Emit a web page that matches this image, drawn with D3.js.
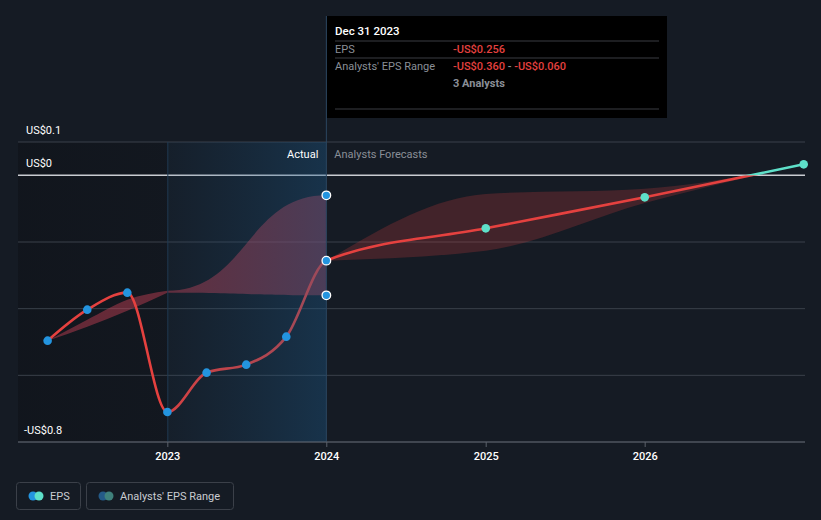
<!DOCTYPE html>
<html><head><meta charset="utf-8">
<script src="https://cdn.jsdelivr.net/npm/d3@7"></script>
<style>
html,body{margin:0;padding:0;background:#151b24;}
svg{display:block;font-family:Roboto, "Noto Sans", sans-serif;}
</style></head>
<body>
<svg id="chart" width="821" height="520"></svg>
<script>
// ---- data ----
const actualDates = ["2022-03-31","2022-06-30","2022-09-30","2022-12-31","2023-03-31","2023-06-30","2023-09-30","2023-12-31"];
const actualEPS = [-0.496,-0.403,-0.352,-0.710,-0.592,-0.568,-0.484,-0.256];
const forecastDates = ["2023-12-31","2024-12-31","2025-12-31","2026-12-31"];
const forecastEPS = [-0.256,-0.159,-0.066,0.033];
const forecastLow = [-0.256,-0.226,-0.083,0.033];
const forecastHigh = [-0.256,-0.056,-0.040,0.033];
const pastRangeDates = ["2022-03-31","2022-06-30","2022-09-30","2022-12-31","2023-12-31"];
const pastRangeLow = [-0.496,-0.454,-0.406,-0.352,-0.360];
const pastRangeHigh = [-0.496,-0.433,-0.373,-0.346,-0.060];
const yTickValues = [0.1,0,-0.2,-0.4,-0.6,-0.8];
const yTickLabels = {"0.1":"US$0.1","0":"US$0","-0.8":"-US$0.8"};
const xTickYears = [2023,2024,2025,2026];
const tooltipTitle = "Dec 31 2023";
const tooltipEPS = "-US$0.256";
const tooltipRangeLow = "-US$0.360";
const tooltipRangeHigh = "-US$0.060";
const tooltipAnalysts = "3 Analysts";

const P = d3.utcParse("%Y-%m-%d");
const svg = d3.select("#chart");
const W = 821, H = 520;
const pL = 18, pR = 805, pT = 142, pB = 442;

const x = d3.scaleUtc().domain([Date.UTC(2022,0,22), Date.UTC(2027,0,3)]).range([pL, pR]);
const y = d3.scaleLinear().domain([-0.8, 0.1]).range([pB, pT]);

const defs = svg.append("defs");
const hg = defs.append("linearGradient").attr("id","hl").attr("x1","0").attr("x2","1").attr("y1","0").attr("y2","0");
hg.append("stop").attr("offset","0").attr("stop-color","#1c4f78").attr("stop-opacity",0.08);
hg.append("stop").attr("offset","1").attr("stop-color","#1c5a8a").attr("stop-opacity",0.38);
const lg = defs.append("linearGradient").attr("id","dk").attr("x1","0").attr("x2","1");
lg.append("stop").attr("offset","0").attr("stop-color","#0e1117").attr("stop-opacity",0.55);
lg.append("stop").attr("offset","1").attr("stop-color","#0e1117").attr("stop-opacity",0.35);

const t2023 = x(Date.UTC(2023,0,1));
const tDiv = x(P("2023-12-31"));

// dark past region
svg.append("rect").attr("x", pL).attr("y", pT).attr("width", t2023-pL).attr("height", pB-pT).attr("fill","url(#dk)");

// gridlines
svg.append("g").selectAll("line").data(yTickValues.filter(v=>v!==0)).join("line")
  .attr("x1", pL).attr("x2", pR).attr("y1", d=>y(d)).attr("y2", d=>y(d))
  .attr("stroke","#3a404a").attr("stroke-width",1);

// bands
const pastBand = pastRangeDates.map((d,i)=>({d:P(d), lo:pastRangeLow[i], hi:pastRangeHigh[i]}));
const nPB = pastBand.length;
svg.append("path").datum(pastBand.slice(0,nPB-1))
  .attr("d", d3.area().curve(d3.curveMonotoneX).x(d=>x(d.d)).y0(d=>y(d.lo)).y1(d=>y(d.hi)))
  .attr("fill","#d9465a").attr("fill-opacity",0.42);
svg.append("path").datum(pastBand.slice(nPB-2))
  .attr("d", d3.area().curve(d3.curveBumpX).x(d=>x(d.d)).y0(d=>y(d.lo)).y1(d=>y(d.hi)))
  .attr("fill","#d9465a").attr("fill-opacity",0.42);
const fBand = forecastDates.map((d,i)=>({d:P(d), lo:forecastLow[i], hi:forecastHigh[i]}));
svg.append("path").datum(fBand)
  .attr("d", d3.area().curve(d3.curveMonotoneX).x(d=>x(d.d)).y0(d=>y(d.lo)).y1(d=>y(d.hi)))
  .attr("fill","#e5413f").attr("fill-opacity",0.22);

// zero line
svg.append("line").attr("x1", pL).attr("x2", pR).attr("y1", y(0)).attr("y2", y(0))
  .attr("stroke","#c9ccd1").attr("stroke-width",1.5);

// EPS line (actual + forecast), red below zero, teal above
const all = actualDates.map((d,i)=>({d:P(d), v:actualEPS[i]}))
  .concat(forecastDates.slice(1).map((d,i)=>({d:P(d), v:forecastEPS[i+1]})));
const line = d3.line().curve(d3.curveMonotoneX).x(d=>x(d.d)).y(d=>y(d.v));
defs.append("clipPath").attr("id","below").append("rect").attr("x",0).attr("y",y(0)).attr("width",W).attr("height",H);
defs.append("clipPath").attr("id","above").append("rect").attr("x",0).attr("y",0).attr("width",W).attr("height",y(0));
svg.append("path").datum(all).attr("d", line).attr("fill","none").attr("stroke","#e5413f").attr("stroke-width",2.6).attr("clip-path","url(#below)");
svg.append("path").datum(all).attr("d", line).attr("fill","none").attr("stroke","#5ee0c9").attr("stroke-width",2.6).attr("clip-path","url(#above)");

// highlight region 2023-2024 (overlay)
svg.append("rect").attr("x", t2023).attr("y", pT).attr("width", tDiv-t2023).attr("height", pB-pT).attr("fill","url(#hl)");
svg.append("line").attr("x1", t2023).attr("x2", t2023).attr("y1", pT).attr("y2", pB).attr("stroke","#1f3a52").attr("stroke-width",1);
svg.append("line").attr("x1", tDiv).attr("x2", tDiv).attr("y1", 16).attr("y2", pB).attr("stroke","#2b4660").attr("stroke-width",1);

// points
const actPts = actualDates.map((d,i)=>({d:P(d), v:actualEPS[i]}));
svg.append("g").selectAll("circle").data(actPts.slice(0,-1)).join("circle")
  .attr("cx", d=>x(d.d)).attr("cy", d=>y(d.v)).attr("r",4.3).attr("fill","#2394df");
const divPts = [actualEPS[actualEPS.length-1], pastRangeHigh[pastRangeHigh.length-1], pastRangeLow[pastRangeLow.length-1]];
svg.append("g").selectAll("circle").data(divPts).join("circle")
  .attr("cx", tDiv).attr("cy", d=>y(d)).attr("r",4.3).attr("fill","#2394df").attr("stroke","#ffffff").attr("stroke-width",1.3);
const fPts = forecastDates.slice(1).map((d,i)=>({d:P(d), v:forecastEPS[i+1]}));
svg.append("g").selectAll("circle").data(fPts).join("circle")
  .attr("cx", d=>x(d.d)).attr("cy", d=>y(d.v)).attr("r",4.3).attr("fill","#5ee0c9");

// x axis
svg.append("line").attr("x1", pL).attr("x2", pR).attr("y1", pB).attr("y2", pB).attr("stroke","#5b616b").attr("stroke-width",1.2);
const xt = svg.append("g").selectAll("g").data(xTickYears).join("g").attr("transform", d=>`translate(${x(Date.UTC(d,0,1))},0)`);
xt.append("line").attr("y1", pB).attr("y2", pB+5).attr("stroke","#5b616b");
xt.append("text").attr("y", pB+18).attr("text-anchor","middle").attr("fill","#ffffff").attr("font-size",11).attr("font-weight",500).text(d=>d);

// y labels
svg.append("g").selectAll("text").data(yTickValues.filter(v=>yTickLabels[String(v)])).join("text")
  .attr("x", d=> d<0 ? 24 : 26).attr("y", d=>y(d)-8).attr("fill","#ffffff").attr("font-size",11)
  .text(d=>yTickLabels[String(d)]);

// Actual / Analysts Forecasts labels
svg.append("text").attr("x", tDiv-8).attr("y", 158).attr("text-anchor","end").attr("fill","#ffffff").attr("font-size",11).text("Actual");
svg.append("text").attr("x", tDiv+8).attr("y", 158).attr("fill","#8a8f97").attr("font-size",11).text("Analysts Forecasts");

// tooltip
const tt = svg.append("g");
tt.append("rect").attr("x", 327).attr("y", 16).attr("width", 340).attr("height", 102).attr("fill","#000000");
tt.append("text").attr("x",335).attr("y",35).attr("fill","#ffffff").attr("font-size",11.5).attr("font-weight",500).text(tooltipTitle);
[41,58,109].forEach(yy=> tt.append("line").attr("x1",335).attr("x2",659).attr("y1",yy).attr("y2",yy).attr("stroke","#3a3d42"));
tt.append("text").attr("x",335).attr("y",53).attr("fill","#8a8f97").attr("font-size",11).text("EPS");
tt.append("text").attr("x",453).attr("y",53).attr("fill","#e5413f").attr("font-size",11).attr("font-weight",500).text(tooltipEPS);
tt.append("text").attr("x",335).attr("y",70).attr("fill","#8a8f97").attr("font-size",11).text("Analysts' EPS Range");
const rt = tt.append("text").attr("x",453).attr("y",70).attr("font-size",11).attr("font-weight",500);
rt.append("tspan").attr("fill","#e5413f").text(tooltipRangeLow);
rt.append("tspan").attr("fill","#8a8f97").text(" - ");
rt.append("tspan").attr("fill","#e5413f").text(tooltipRangeHigh);
tt.append("text").attr("x",453).attr("y",87).attr("fill","#8a8f97").attr("font-size",11).attr("font-weight",700).text(tooltipAnalysts);

// legend
const lgd = svg.append("g");
lgd.append("rect").attr("x",16.5).attr("y",482.5).attr("width",64).attr("height",27).attr("rx",3).attr("fill","none").attr("stroke","#3b4049");
lgd.append("circle").attr("cx",33).attr("cy",496).attr("r",4.5).attr("fill","#2394df");
lgd.append("circle").attr("cx",39).attr("cy",496).attr("r",4.5).attr("fill","#5ee0c9");
lgd.append("text").attr("x",50).attr("y",500).attr("fill","#c9ccd1").attr("font-size",11).text("EPS");
lgd.append("rect").attr("x",86.5).attr("y",482.5).attr("width",147).attr("height",27).attr("rx",3).attr("fill","none").attr("stroke","#3b4049");
lgd.append("circle").attr("cx",103).attr("cy",496).attr("r",4.5).attr("fill","#245a87");
lgd.append("circle").attr("cx",109).attr("cy",496).attr("r",4.5).attr("fill","#3f817c");
lgd.append("text").attr("x",120).attr("y",500).attr("fill","#c9ccd1").attr("font-size",11).text("Analysts' EPS Range");
</script>
</body></html>
